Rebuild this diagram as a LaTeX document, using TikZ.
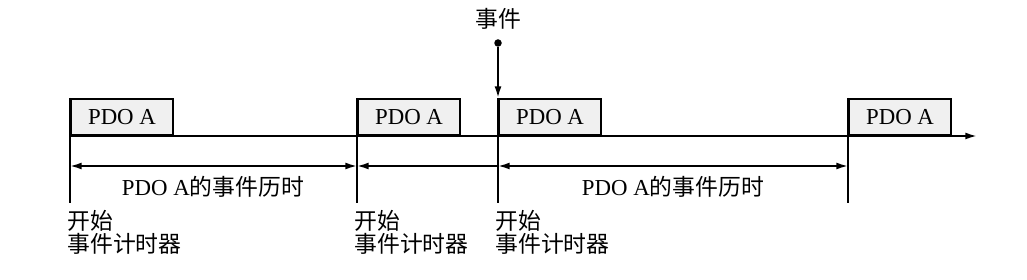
\documentclass[tikz,border=0pt]{standalone}
\usepackage{fontspec}
\setmainfont{Liberation Serif}
\newfontfamily\cjk{Noto Sans CJK SC}
\usetikzlibrary{arrows.meta,positioning}

\begin{document}
\begin{tikzpicture}[
  x=0.6pt, y=-0.6pt,
  >={Latex[length=7pt,width=4.2pt]},
  font=\fontsize{13.7}{14}\selectfont,
  pdobox/.style={draw, line width=1.2pt, fill=gray!12, minimum width=61.2pt, minimum height=21.6pt, anchor=south west, inner sep=0pt},
  axis/.style={line width=1.2pt},
  span/.style={line width=1.1pt},
  marker/.style={align=left, anchor=north west, inner sep=0pt}
]
\useasboundingbox (0,0) rectangle (1027,280);

% PDO frames on the time axis
\node[pdobox] (pdo1) at (70,136) {PDO A};
\node[pdobox] (pdo2) at (357,136) {PDO A};
\node[pdobox] (pdo3) at (498,136) {PDO A};
\node[pdobox] (pdo4) at (848,136) {PDO A};

% time axis
\coordinate (tend) at (977,136);
\draw[axis,->] (pdo1.south west) -- (tend);

% timer start lines
\foreach \i/\x in {1/70,2/357,3/498,4/848} {
  \coordinate (b\i) at (\x,203);
  \coordinate (d\i) at (\x,166);
  \draw[axis] (pdo\i.north west) -- (b\i);
}

% event times
\draw[span,<->] (d1) -- (d2);
\draw[span,<-] (d2) -- (d3);
\draw[span,<->] (d3) -- (d4);
\node (lab1) at (213,187) {PDO A{\cjk 的事件历时}};
\node (lab2) at (673,187) {PDO A{\cjk 的事件历时}};

% event
\node (evt) at (498,19) {\cjk 事件};
\node[circle, fill, inner sep=0pt, minimum size=4.5pt] (dot) at (498,43) {};
\draw[axis,->] (dot) -- (pdo3.north west);

% start labels
\node[marker] (st1) at (67,210) {\cjk 开始\\\cjk 事件计时器};
\node[marker] (st2) at (354,210) {\cjk 开始\\\cjk 事件计时器};
\node[marker] (st3) at (495,210) {\cjk 开始\\\cjk 事件计时器};
\end{tikzpicture}
\end{document}
